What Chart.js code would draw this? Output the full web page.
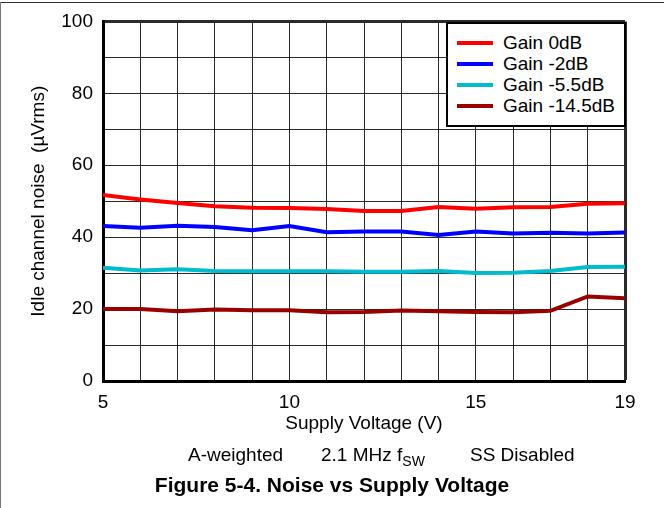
<!DOCTYPE html>
<html>
<head>
<meta charset="utf-8">
<script src="https://cdn.jsdelivr.net/npm/chart.js@4/dist/chart.umd.min.js"></script>
<style>
  html, body { margin: 0; padding: 0; background: #fff; }
  #fig { position: relative; width: 664px; height: 508px; overflow: hidden; background: #fff;
         font-family: "Liberation Sans", Arial, sans-serif; color: #000; }
  #frameTop { position: absolute; left: 0; top: 2px; width: 664px; height: 0; border-top: 1px solid #333; }
  #frameLeft { position: absolute; left: 0; top: 2px; width: 0; height: 506px; border-left: 1px solid #777; }
  #chart { position: absolute; left: 0; top: 0; }
  #legend { position: absolute; left: 446px; top: 22px; width: 176px; height: 101px;
            border: 2px solid #000; background: #fff; }
  .row { position: absolute; left: 0; width: 176px; height: 21px; }
  .swatch { position: absolute; left: 9px; width: 36px; height: 4px; }
  .ltext { position: absolute; left: 55px; font-size: 19px; line-height: 19px; white-space: nowrap; }
  .note { position: absolute; font-size: 19px; line-height: 19px; white-space: nowrap; }
  .note sub { font-size: 14px; vertical-align: -5px; line-height: 0; }
  #caption { position: absolute; left: 0; width: 664px; top: 474px; text-align: center;
             font-size: 21px; line-height: 21px; font-weight: bold; white-space: nowrap; }
</style>
</head>
<body>
<div id="fig">
  <canvas id="chart" width="664" height="508"></canvas>
  <div id="legend"></div>
  <div class="note" style="left:188px; top:445px;">A-weighted</div>
  <div class="note" style="left:321px; top:445px;">2.1 MHz f<sub>SW</sub></div>
  <div class="note" style="left:470px; top:445px;">SS Disabled</div>
  <div id="caption">Figure 5-4. Noise vs Supply Voltage</div>
  <div id="frameTop"></div>
  <div id="frameLeft"></div>
</div>
<script>
// Supply voltage sweep (V)
const voltage = [5, 6, 7, 8, 9, 10, 11, 12, 13, 14, 15, 16, 17, 18, 19];

// Idle channel noise (µVrms) per gain setting
const gain0dB    = [51.7, 50.5, 49.5, 48.6, 48.2, 48.1, 47.8, 47.3, 47.3, 48.4, 47.9, 48.3, 48.4, 49.3, 49.4];
const gainM2dB   = [43.1, 42.6, 43.2, 42.8, 41.9, 43.1, 41.4, 41.6, 41.6, 40.6, 41.6, 41.0, 41.2, 41.0, 41.3];
const gainM5p5dB = [31.5, 30.7, 31.1, 30.6, 30.5, 30.5, 30.5, 30.4, 30.4, 30.6, 30.0, 30.1, 30.6, 31.7, 31.8];
const gainM14p5dB= [20.0, 20.0, 19.4, 19.9, 19.7, 19.7, 19.1, 19.2, 19.6, 19.4, 19.2, 19.1, 19.5, 23.5, 23.0];

const seriesLabels = ["Gain 0dB", "Gain -2dB", "Gain -5.5dB", "Gain -14.5dB"];
const seriesColors = ["#ff0000", "#0000ff", "#00bccc", "#990000"];
const seriesValues = [gain0dB, gainM2dB, gainM5p5dB, gainM14p5dB];

// Axis tick labels shown
const xTickLabels = [5, 10, 15, 19];
const yTickLabels = [0, 20, 40, 60, 80, 100];

const FONT = "'Liberation Sans', Arial, sans-serif";
const GRID = "#2a2a2a";

const datasets = seriesValues.map((vals, i) => ({
  label: seriesLabels[i],
  data: voltage.map((v, j) => ({ x: v, y: vals[j] })),
  borderColor: seriesColors[i],
  backgroundColor: seriesColors[i],
  borderWidth: 4,
  pointRadius: 0,
  tension: 0,
  fill: false
}));

new Chart(document.getElementById("chart"), {
  type: "line",
  data: { datasets },
  options: {
    responsive: false,
    animation: false,
    layout: { padding: { left: 27, top: 21, right: 39, bottom: 73 } },
    plugins: { legend: { display: false }, tooltip: { enabled: false } },
    scales: {
      x: {
        type: "linear",
        min: 5, max: 19,
        afterFit: s => { s.height = 54; },
        ticks: {
          stepSize: 1, autoSkip: false, padding: 10, maxRotation: 0,
          color: "#000", font: { family: FONT, size: 19 },
          callback: v => xTickLabels.includes(v) ? String(v) : ""
        },
        grid: {
          color: GRID, drawTicks: false,
          lineWidth: c => (c.tick && c.tick.value === 19) ? 3 : 1
        },
        border: { display: true, color: "#000", width: 3 },
        title: {
          display: true, text: "Supply Voltage (V)", color: "#000",
          font: { family: FONT, size: 19 }, padding: 0
        }
      },
      y: {
        type: "linear",
        min: 0, max: 100,
        afterFit: s => { s.width = 76; },
        ticks: {
          stepSize: 10, autoSkip: false, padding: 10,
          color: "#000", font: { family: FONT, size: 19 },
          callback: v => yTickLabels.includes(v) ? String(v) : ""
        },
        grid: {
          color: GRID, drawTicks: false,
          lineWidth: c => (c.tick && c.tick.value === 100) ? 3 : 1
        },
        border: { display: true, color: "#000", width: 3 },
        title: {
          display: true, text: "Idle channel noise  (\u00B5Vrms)", color: "#000",
          font: { family: FONT, size: 19 }, padding: 0
        }
      }
    }
  }
});

// Legend box inside the plot, built from the series
const legend = document.getElementById("legend");
seriesLabels.forEach((lab, i) => {
  const row = document.createElement("div");
  row.className = "row";
  row.style.top = (9 + 21 * i) + "px";
  const sw = document.createElement("div");
  sw.className = "swatch";
  sw.style.top = "8px";
  sw.style.background = seriesColors[i];
  const tx = document.createElement("div");
  tx.className = "ltext";
  tx.style.top = "0px";
  tx.textContent = lab;
  row.appendChild(sw);
  row.appendChild(tx);
  legend.appendChild(row);
});
</script>
</body>
</html>
